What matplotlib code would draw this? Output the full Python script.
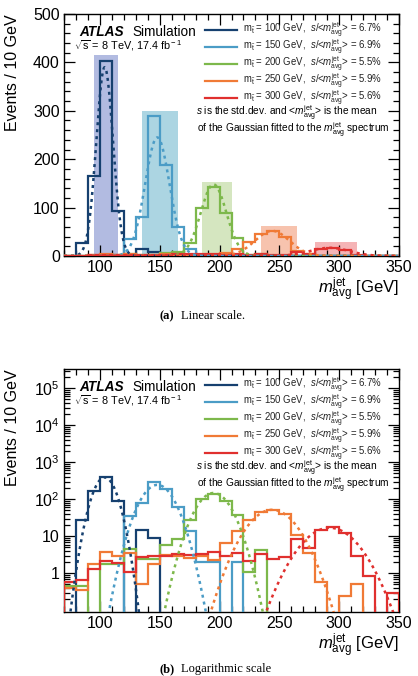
import numpy as np
import matplotlib
matplotlib.use('Agg')
import matplotlib.pyplot as plt
from matplotlib.ticker import MultipleLocator, LogLocator, FixedLocator, FixedFormatter, NullFormatter
from matplotlib.lines import Line2D
from matplotlib.patches import Rectangle

plt.rcParams['font.family'] = ['Liberation Sans', 'DejaVu Sans']
plt.rcParams['mathtext.fontset'] = 'custom'
plt.rcParams['mathtext.rm'] = 'Liberation Sans'
plt.rcParams['mathtext.it'] = 'Liberation Sans:italic'
plt.rcParams['mathtext.bf'] = 'Liberation Sans:bold'

# ---------------- data ----------------
bin_edges = [70, 80, 90, 100, 110, 120, 130, 140, 150, 160, 170, 180, 190, 200, 210,
             220, 230, 240, 250, 260, 270, 280, 290, 300, 310, 320, 330, 340, 350]

stop_masses = [100, 150, 200, 250, 300]
resolutions = ["6.7", "6.9", "5.5", "5.9", "5.6"]

counts_m100 = [0, 27, 166, 403, 92, 0, 14.5, 9, 0, 0, 0, 0, 0, 0,
               0, 0, 0, 0, 0, 0, 0, 0, 0, 0, 0, 0, 0, 0]
counts_m150 = [0, 0, 0, 0, 0, 36, 80, 290, 188, 60, 14, 2, 2, 0,
               2, 0, 0, 0, 0, 0, 0, 0, 0, 0, 0, 0, 0, 0]
counts_m200 = [0.45, 0.45, 0, 1.8, 1.8, 4.5, 2.5, 2.5, 6, 8.5, 27, 99, 142, 88,
               37, 1.1, 4.3, 0, 0, 0, 0, 0, 0, 0, 0, 0, 0, 0]
counts_m250 = [0.4, 0.35, 1.8, 3.8, 3.0, 3.6, 0.5, 1.8, 3.1, 2.9, 2.6, 3.0, 2.3, 6.5,
               14, 28, 46, 52, 40, 11, 3.5, 0.6, 0, 0.25, 0.5, 0, 0, 0]
counts_m300 = [0.6, 0.65, 1.3, 2.1, 1.9, 1.1, 2.8, 2.9, 2.9, 3.3, 3.1, 3.3, 3.8, 2.9,
               3.5, 2.2, 3.3, 2.5, 2.7, 8.3, 4.7, 14.5, 17.5, 12, 3.0, 0.85, 0, 0.3]

fit_amp = [390, 245, 148, 52, 17]
fit_mean = [104, 148, 195, 244, 292]
fit_sigma = [7.0, 10.2, 10.7, 14.4, 16.4]

band_lo = [95, 135, 185, 235, 280]
band_hi = [115, 165, 210, 265, 315]
band_top = [415, 300, 152, 63, 28]

line_colors = ['#16406f', '#4b9cc6', '#7db84b', '#f07a36', '#e0302e']
band_colors = ['#b2bbe1', '#acd5e2', '#d5e6c0', '#f7c3ae', '#f5b4b6']

all_counts = [counts_m100, counts_m150, counts_m200, counts_m250, counts_m300]

# ---------------- figure ----------------
W, H = 418, 676
fig = plt.figure(figsize=(W / 100, H / 100), dpi=100)

ax_l = fig.add_axes([64 / W, 1 - 256 / H, 335 / W, 242 / H])
ax_g = fig.add_axes([64 / W, 1 - 611.7 / H, 335 / W, 242.7 / H])

xfine = np.linspace(70, 350, 1200)
edges = np.array(bin_edges, dtype=float)


def style_axes(ax):
    ax.set_xlim(70, 350)
    ax.xaxis.set_major_locator(MultipleLocator(50))
    ax.xaxis.set_minor_locator(MultipleLocator(10))
    ax.tick_params(which='both', direction='in', top=True, right=True, width=0.9)
    ax.tick_params(which='major', length=8, labelsize=11.5, pad=3)
    ax.tick_params(which='minor', length=4)
    for s in ax.spines.values():
        s.set_linewidth(1.0)
    ax.text(-0.155, 1.0, 'Events / 10 GeV', transform=ax.transAxes, rotation=90,
            ha='center', va='top', fontsize=11.5)
    ax.text(1.0, -34 / 242, r'$m^{\rm jet}_{\rm avg}$ [GeV]', transform=ax.transAxes,
            ha='right', va='center', fontsize=12)
    # ATLAS label
    ax.text(0.045, 1 - 18 / 242, 'ATLAS', transform=ax.transAxes, fontsize=9.8,
            fontweight='bold', fontstyle='italic', ha='left', va='center')
    ax.text(0.203, 1 - 18 / 242, 'Simulation', transform=ax.transAxes, fontsize=9.8,
            ha='left', va='center')
    ax.text(0.03, 1 - 31.5 / 242, r'$\sqrt{\rm s}$ = 8 TeV, 17.4 fb$^{\rm -1}$',
            transform=ax.transAxes, fontsize=7.8, ha='left', va='center')
    # legend
    row_off = [16, 33, 50, 67, 84]
    for i in range(5):
        yy = 1 - row_off[i] / 242
        ax.add_line(Line2D([0.42, 0.516], [yy, yy], transform=ax.transAxes,
                           color=line_colors[i], lw=1.6))
        ax.text(0.534, yy, r'm$_{\tilde{\rm t}}$ = %d GeV,  $s$/<$m^{\rm jet}_{\rm avg}$> = %s%%'
                % (stop_masses[i], resolutions[i]), transform=ax.transAxes,
                fontsize=6.9, ha='left', va='center', color='#222222')
    ax.text(0.665, 1 - 99.5 / 242, r'$s$ is the std.dev. and <$m^{\rm jet}_{\rm avg}$> is the mean',
            transform=ax.transAxes, fontsize=7.3, ha='center', va='center')
    ax.text(0.685, 1 - 116 / 242, r'of the Gaussian fitted to the $m^{\rm jet}_{\rm avg}$ spectrum',
            transform=ax.transAxes, fontsize=7.3, ha='center', va='center')


# ---------------- linear panel ----------------
for i in range(5):
    ax_l.add_patch(Rectangle((band_lo[i], 0), band_hi[i] - band_lo[i], band_top[i],
                             facecolor=band_colors[i], edgecolor='none', zorder=1))
for i in range(5):
    ax_l.stairs(all_counts[i], edges, color=line_colors[i], lw=1.6, baseline=0, zorder=3)
    g = fit_amp[i] * np.exp(-0.5 * ((xfine - fit_mean[i]) / fit_sigma[i]) ** 2)
    ax_l.plot(xfine, g, ls=(0, (1.2, 1.6)), color=line_colors[i], lw=1.8, zorder=4)
ax_l.set_ylim(0, 500)
ax_l.yaxis.set_major_locator(MultipleLocator(100))
ax_l.yaxis.set_minor_locator(MultipleLocator(20))
style_axes(ax_l)

# ---------------- log panel ----------------
for i in range(5):
    vals = np.array(all_counts[i], dtype=float)
    vals_plot = np.where(vals > 0, vals, 1e-4)
    ax_g.stairs(vals_plot, edges, color=line_colors[i], lw=1.6, baseline=1e-4, zorder=3)
    g = fit_amp[i] * np.exp(-0.5 * ((xfine - fit_mean[i]) / fit_sigma[i]) ** 2)
    g = np.where(g > 1e-4, g, 1e-4)
    ax_g.plot(xfine, g, ls=(0, (1.2, 1.6)), color=line_colors[i], lw=1.8, zorder=4)
ax_g.set_yscale('log')
ax_g.set_ylim(0.092, 3.3e5)
ax_g.yaxis.set_major_locator(FixedLocator([1, 10, 100, 1e3, 1e4, 1e5]))
ax_g.yaxis.set_major_formatter(FixedFormatter(['1', '10', r'10$^{2}$', r'10$^{3}$',
                                               r'10$^{4}$', r'10$^{5}$']))
ax_g.yaxis.set_minor_locator(LogLocator(base=10, subs=np.arange(2, 10), numticks=20))
ax_g.yaxis.set_minor_formatter(NullFormatter())
style_axes(ax_g)

# ---------------- captions ----------------
fig.text(159 / W, 1 - 316 / H, '(a)', fontsize=9, fontweight='bold',
         family='Liberation Serif', ha='left', va='center')
fig.text(181 / W, 1 - 316 / H, 'Linear scale.', fontsize=9,
         family='Liberation Serif', ha='left', va='center')
fig.text(159 / W, 1 - 669 / H, '(b)', fontsize=9, fontweight='bold',
         family='Liberation Serif', ha='left', va='center')
fig.text(181 / W, 1 - 669 / H, 'Logarithmic scale', fontsize=9,
         family='Liberation Serif', ha='left', va='center')

fig.savefig('out.png', dpi=100)
